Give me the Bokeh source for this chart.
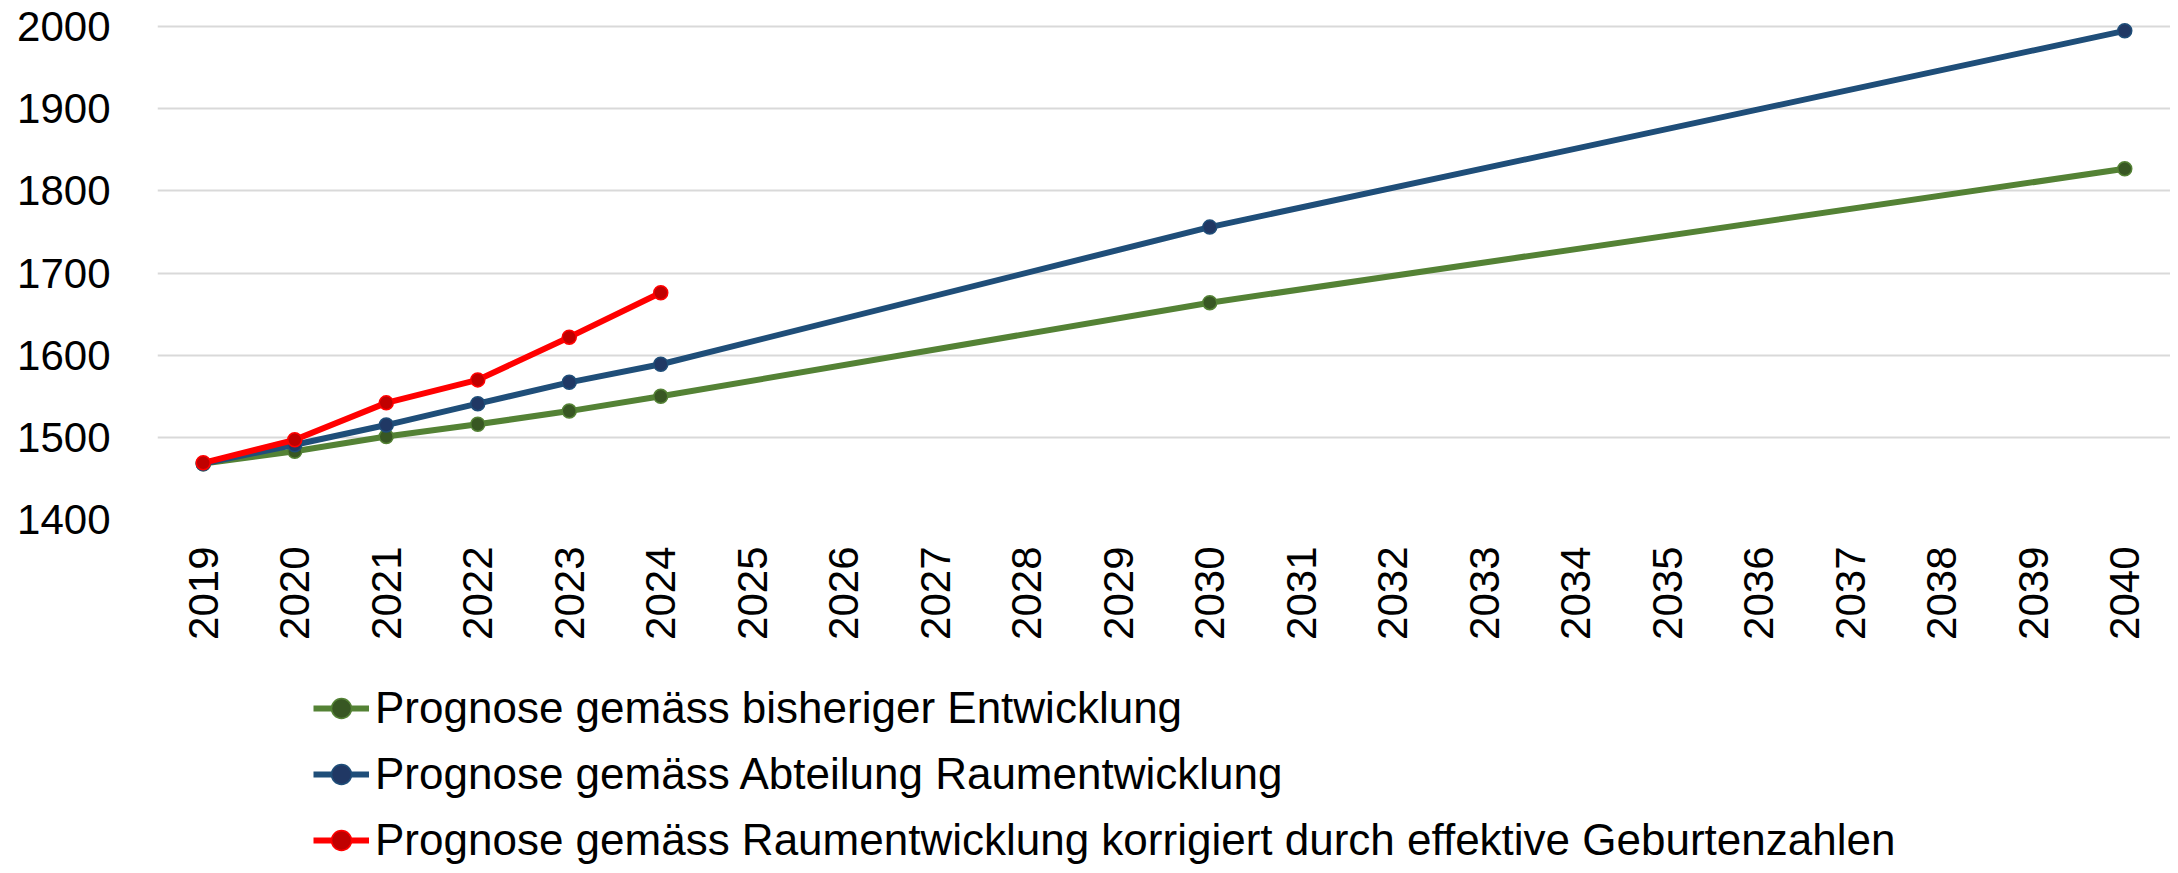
import math
from bokeh.plotting import figure
from bokeh.layouts import column
from bokeh.models import FactorRange, Range1d, FixedTicker, Legend, LegendItem
from bokeh.embed import file_html
from bokeh.resources import INLINE

# ---- data ----
years = ["2019", "2020", "2021", "2022", "2023", "2024", "2025", "2026", "2027", "2028", "2029",
         "2030", "2031", "2032", "2033", "2034", "2035", "2036", "2037", "2038", "2039", "2040"]
y_ticks = [1400, 1500, 1600, 1700, 1800, 1900, 2000]

green_years = ["2019", "2020", "2021", "2022", "2023", "2024", "2030", "2040"]
green_vals = [1468, 1483, 1501, 1516, 1532, 1550, 1664, 1827]

blue_years = ["2019", "2020", "2021", "2022", "2023", "2024", "2030", "2040"]
blue_vals = [1468, 1491, 1515, 1541, 1567, 1589, 1756, 1995]

red_years = ["2019", "2020", "2021", "2022", "2023", "2024"]
red_vals = [1469, 1497, 1542, 1570, 1622, 1676]

labels = [
    "Prognose gemäss bisheriger Entwicklung",
    "Prognose gemäss Abteilung Raumentwicklung",
    "Prognose gemäss Raumentwicklung korrigiert durch effektive Geburtenzahlen",
]

FONT = "Liberation Sans"
W = 2170
H_MAIN = 659
H_LEG = 206

x_range = FactorRange(factors=years, range_padding=0)

p = figure(
    width=W, height=H_MAIN,
    x_range=x_range,
    y_range=Range1d(1400, 2010),
    output_backend="svg", toolbar_location=None,
    min_border_left=157, min_border_right=0, min_border_top=18, min_border_bottom=140,
)
p.outline_line_color = None
p.background_fill_color = "white"
p.xgrid.grid_line_color = None
p.ygrid.grid_line_color = "#D9D9D9"
p.ygrid.grid_line_width = 2

p.yaxis.ticker = FixedTicker(ticks=y_ticks)
for ax in (p.xaxis, p.yaxis):
    ax.axis_line_color = None
    ax.major_tick_line_color = None
    ax.minor_tick_line_color = None
    ax.major_tick_out = 0
    ax.major_tick_in = 0
    ax.major_label_text_font = FONT
    ax.major_label_text_font_size = "42px"
    ax.major_label_text_color = "black"
p.yaxis.major_label_standoff = 47
p.xaxis.major_label_standoff = 27
p.xaxis.major_label_orientation = math.pi / 2

series = [
    (green_years, green_vals, "#548235", "#385723"),
    (blue_years, blue_vals, "#1F4E79", "#203864"),
    (red_years, red_vals, "#FF0000", "#C00000"),
]
for xs, ys, lc, mc in series:
    p.line(xs, ys, line_color=lc, line_width=6)
    p.scatter(xs, ys, size=14, fill_color=mc, line_color=lc, line_width=1.5)

# ---- legend strip below the chart ----
# the series are drawn again here (outside this strip's visible y-range),
# only so that the legend has styled renderers to show
pl = figure(
    width=W, height=H_LEG,
    x_range=x_range, y_range=Range1d(0, 1),
    x_axis_location=None, y_axis_location=None,
    output_backend="svg", toolbar_location=None,
    min_border_left=157, min_border_right=0, min_border_top=24, min_border_bottom=0,
)
pl.outline_line_color = None
pl.xgrid.grid_line_color = None
pl.ygrid.grid_line_color = None

items = []
for (xs, ys, lc, mc), lab in zip(series, labels):
    ln = pl.line(xs, ys, line_color=lc, line_width=6)
    sc = pl.scatter(xs, ys, size=14, fill_color=mc, line_color=lc, line_width=1.5)
    items.append(LegendItem(label=lab, renderers=[ln, sc]))

legend = Legend(
    items=items, location=(156, 0), orientation="vertical",
    glyph_width=56, glyph_height=50, label_height=50, spacing=16,
    padding=0, margin=0, label_standoff=6,
    border_line_color=None, background_fill_alpha=0,
    label_text_font=FONT, label_text_font_size="44px", label_text_color="black",
)
pl.add_layout(legend, "center")

open("out.html", "w").write(file_html(column(p, pl, spacing=0), INLINE))
